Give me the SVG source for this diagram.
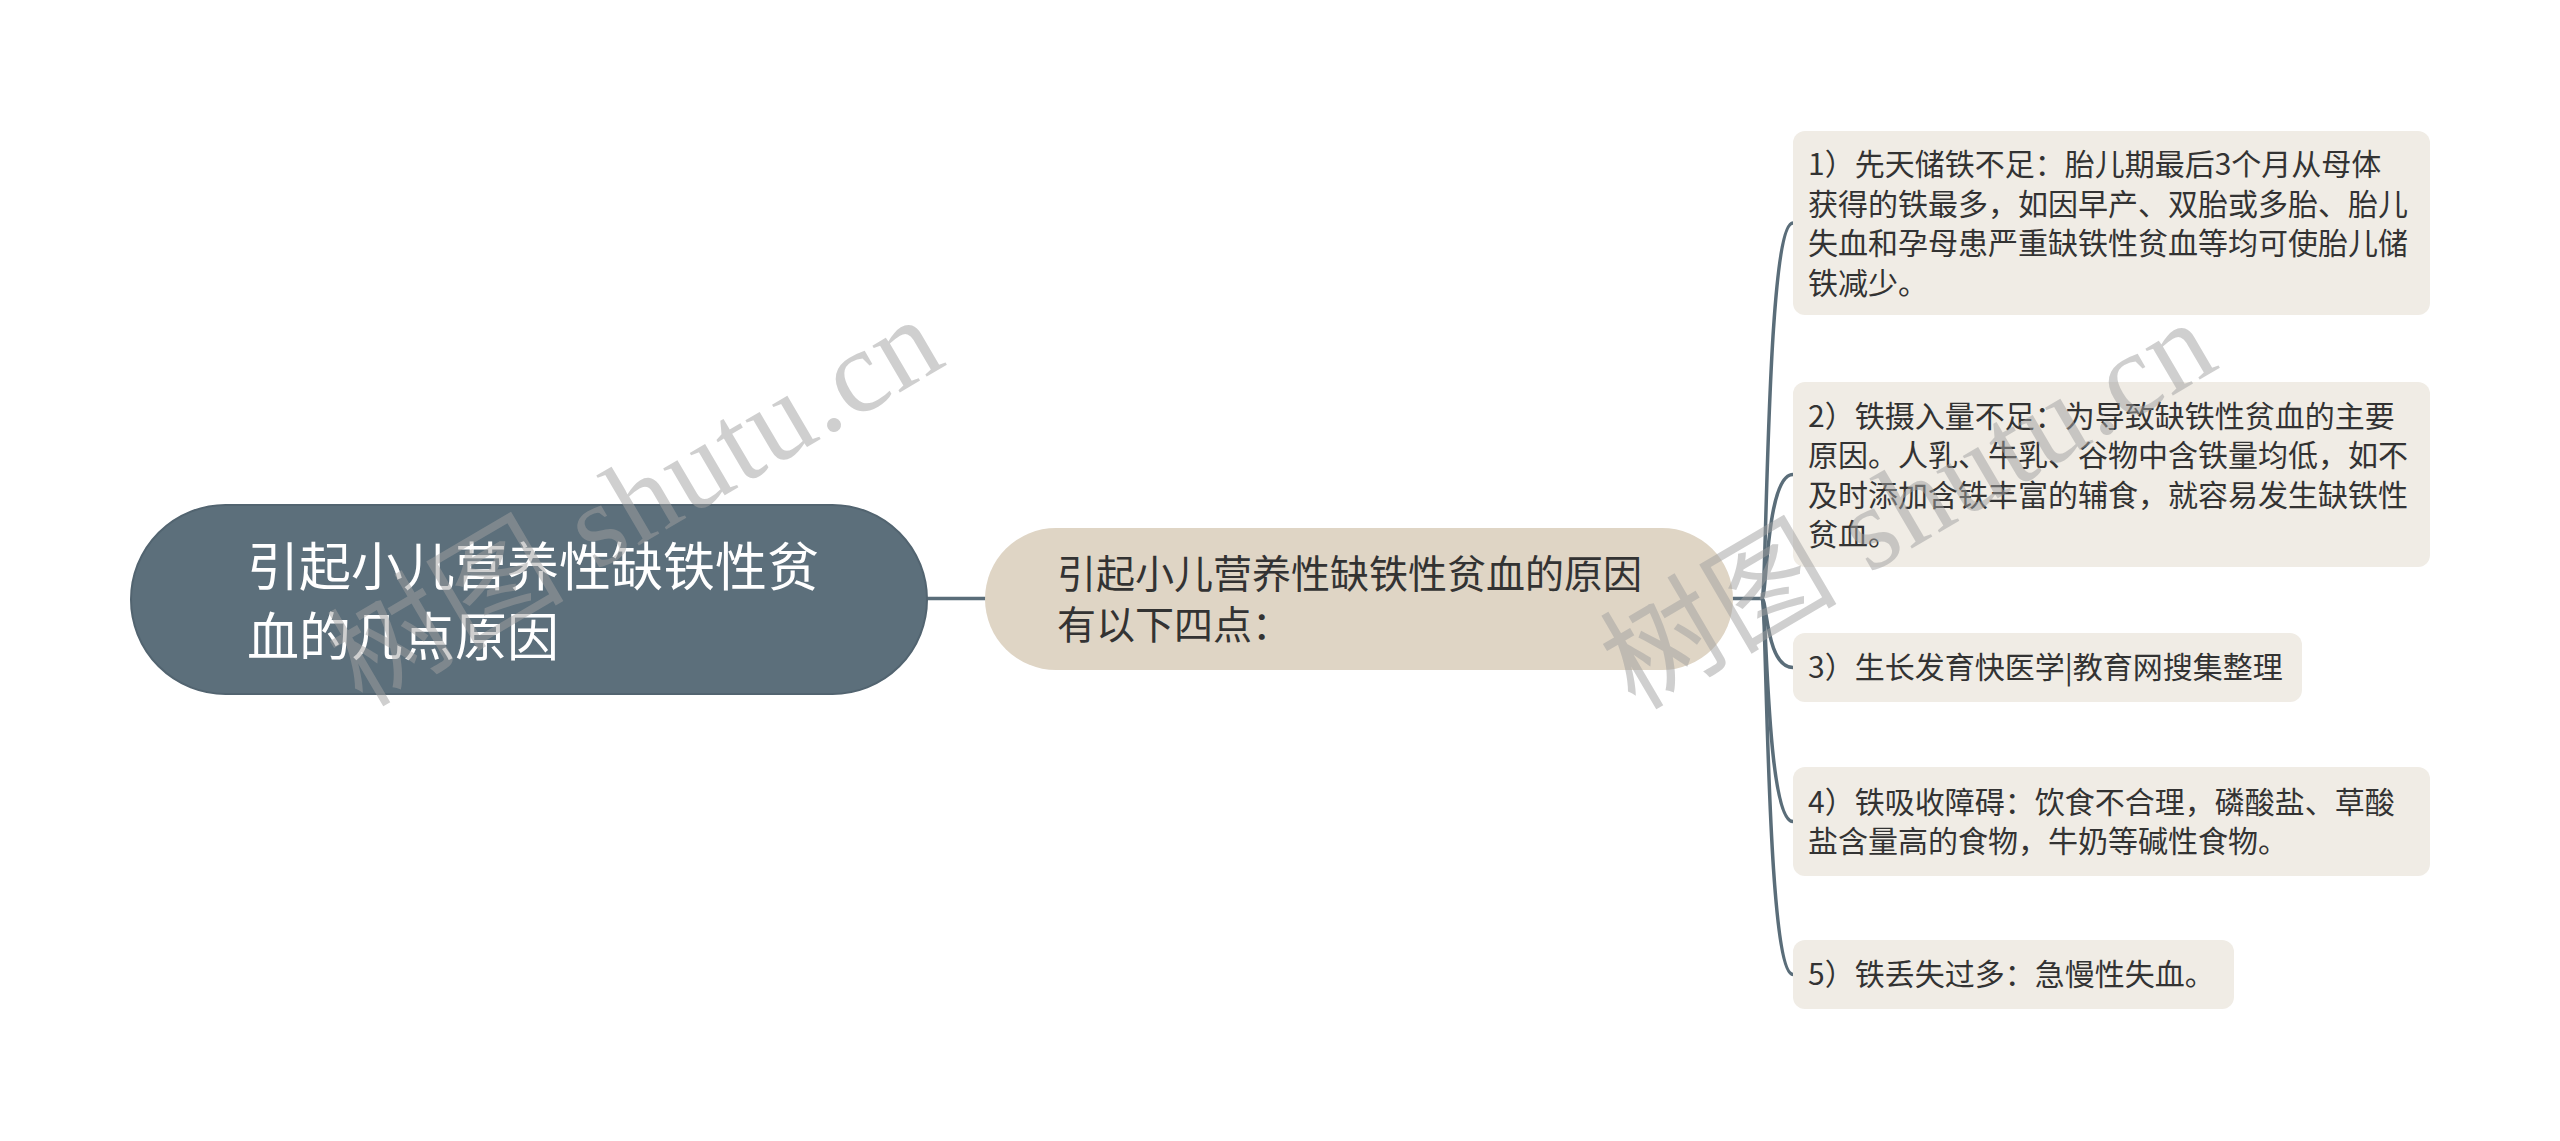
<svg xmlns="http://www.w3.org/2000/svg" width="2560" height="1141" viewBox="0 0 2560 1141">
<style>
.bg{fill:#ffffff}
.conn{fill:none;stroke:#5a6d79;stroke-width:3.5;stroke-linecap:round}
.root{fill:#5c6f7b;stroke:#526470;stroke-width:2}
.mid{fill:#dfd5c5}
.leaf{fill:#f0ece5}
.t{font-family:"Noto Sans CJK SC","Noto Sans",sans-serif}
.rt{fill:#ffffff;font-size:52px}
.mt{fill:#333333;font-size:39px}
.lt{fill:#333333;font-size:30px}
.wm{font-family:"Liberation Serif","Noto Sans CJK SC",serif;font-size:118px;fill:#a0a0a0;opacity:0.5}
</style>
<rect class="bg" x="0" y="0" width="2560" height="1141"/>
<g id="connectors">
<path class="conn" d="M927 598.5 L985 598.5"/>
<path class="conn" d="M1733 598.5 L1762 598.5"/>
<path class="conn" d="M1762 598.5 C1767 598.5 1766 223 1793 223"/>
<path class="conn" d="M1762 598.5 C1767 598.5 1766 474.5 1793 474.5"/>
<path class="conn" d="M1762 598.5 C1767 598.5 1766 667.5 1793 667.5"/>
<path class="conn" d="M1762 598.5 C1767 598.5 1766 821.5 1793 821.5"/>
<path class="conn" d="M1762 598.5 C1767 598.5 1766 974.5 1793 974.5"/>
</g>
<g id="root">
<rect class="root" x="131" y="505" width="796" height="189" rx="94.5" ry="94.5"/>
<text class="t rt"><tspan x="247" y="586">引起小儿营养性缺铁性贫</tspan><tspan x="247" y="656">血的几点原因</tspan></text>
</g>
<g id="middle">
<rect class="mid" x="985" y="528" width="748" height="142" rx="71" ry="71"/>
<text class="t mt"><tspan x="1057" y="588">引起小儿营养性缺铁性贫血的原因</tspan><tspan x="1057" y="639">有以下四点：</tspan></text>
</g>
<g id="leaf1">
<rect class="leaf" x="1793" y="131" width="637" height="184" rx="12" ry="12"/>
<text class="t lt"><tspan x="1808" y="175">1）先天储铁不足：胎儿期最后3个月从母体</tspan><tspan x="1808" y="214.5">获得的铁最多，如因早产、双胎或多胎、胎儿</tspan><tspan x="1808" y="254">失血和孕母患严重缺铁性贫血等均可使胎儿储</tspan><tspan x="1808" y="293.5">铁减少。</tspan></text>
</g>
<g id="leaf2">
<rect class="leaf" x="1793" y="382" width="637" height="185" rx="12" ry="12"/>
<text class="t lt"><tspan x="1808" y="426.5">2）铁摄入量不足：为导致缺铁性贫血的主要</tspan><tspan x="1808" y="466">原因。人乳、牛乳、谷物中含铁量均低，如不</tspan><tspan x="1808" y="505.5">及时添加含铁丰富的辅食，就容易发生缺铁性</tspan><tspan x="1808" y="545">贫血。</tspan></text>
</g>
<g id="leaf3">
<rect class="leaf" x="1793" y="633" width="509" height="69" rx="12" ry="12"/>
<text class="t lt" x="1808" y="678">3）生长发育快医学|教育网搜集整理</text>
</g>
<g id="leaf4">
<rect class="leaf" x="1793" y="767" width="637" height="109" rx="12" ry="12"/>
<text class="t lt"><tspan x="1808" y="812.5">4）铁吸收障碍：饮食不合理，磷酸盐、草酸</tspan><tspan x="1808" y="852">盐含量高的食物，牛奶等碱性食物。</tspan></text>
</g>
<g id="leaf5">
<rect class="leaf" x="1793" y="940" width="441" height="69" rx="12" ry="12"/>
<text class="t lt" x="1808" y="985">5）铁丢失过多：急慢性失血。</text>
</g>
<g id="watermarks">
<text class="wm" x="362" y="708" transform="rotate(-30.4 362 708)" textLength="680" lengthAdjust="spacing">树图 shutu.cn</text>
<text class="wm" x="1635" y="711" transform="rotate(-30.4 1635 711)" textLength="680" lengthAdjust="spacing">树图 shutu.cn</text>
</g>
</svg>
